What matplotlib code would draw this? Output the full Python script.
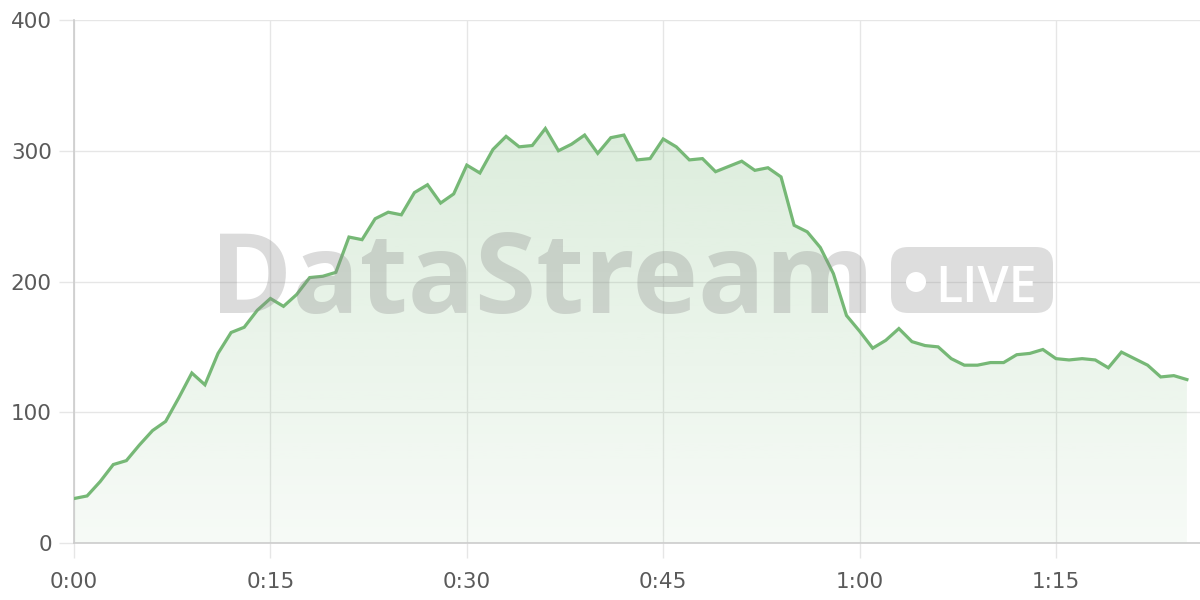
import numpy as np
import matplotlib.pyplot as plt
from matplotlib.patches import FancyBboxPatch, Circle
from matplotlib.colors import to_rgb

# minutes since start and viewer values
minutes = list(range(86))
values = [34, 36, 47, 60, 63, 75, 86, 93, 111, 130,
          121, 145, 161, 165, 178, 187, 181, 190, 203, 204,
          207, 234, 232, 248, 253, 251, 268, 274, 260, 267,
          289, 283, 301, 311, 303, 304, 317, 300, 305, 312,
          298, 310, 312, 293, 294, 309, 303, 293, 294, 284,
          288, 292, 285, 287, 280, 243, 238, 226, 206, 174,
          162, 149, 155, 164, 154, 151, 150, 141, 136, 136,
          138, 138, 144, 145, 148, 141, 140, 141, 140, 134,
          146, 141, 136, 127, 128, 125]
x_ticks = [0, 15, 30, 45, 60, 75]
x_labels = ["0:00", "0:15", "0:30", "0:45", "1:00", "1:15"]
y_ticks = [0, 100, 200, 300, 400]

line_col = "#76b876"

fig = plt.figure(figsize=(12, 6), dpi=100)
ax = fig.add_axes([74/1200, 57/600, 1126/1200, 523/600])
ax.set_xlim(0, 86)
ax.set_ylim(0, 400)

# gradient fill under the line
rgb = to_rgb(line_col)
grad = np.zeros((256, 1, 4))
grad[:, 0, 0] = rgb[0]
grad[:, 0, 1] = rgb[1]
grad[:, 0, 2] = rgb[2]
grad[:, 0, 3] = np.linspace(0.30, 0.06, 256)
im = ax.imshow(grad, aspect="auto", extent=[0, 86, 0, 400], origin="upper", zorder=1)
poly = ax.fill_between(minutes, values, 0, color="none")
im.set_clip_path(poly.get_paths()[0], transform=ax.transData)

ax.plot(minutes, values, color=line_col, lw=2.3, zorder=3, solid_joinstyle="miter")

ax.set_xticks(x_ticks)
ax.set_xticklabels(x_labels)
ax.set_yticks(y_ticks)
ax.grid(True, color="#e6e6e6", lw=1)
ax.set_axisbelow(True)
for s in ["top", "right"]:
    ax.spines[s].set_visible(False)
for s in ["left", "bottom"]:
    ax.spines[s].set_color("#cccccc")
    ax.spines[s].set_linewidth(1.2)
ax.tick_params(axis="both", colors="#e6e6e6", length=11, width=1, labelcolor="#5a5a5a", labelsize=15.5)
ax.tick_params(axis="y", pad=5)
ax.tick_params(axis="x", pad=10)

# watermark on an overlay in pixel coordinates
ov = fig.add_axes([0, 0, 1, 1], zorder=5)
ov.set_xlim(0, 1200)
ov.set_ylim(600, 0)
ov.axis("off")
ov.patch.set_visible(False)
ov.text(542, 313, "DataStream", fontsize=80, fontweight="bold",
        family=["Open Sans", "Liberation Sans", "DejaVu Sans"], color="#888888", alpha=0.3,
        ha="center", va="baseline")
badge = FancyBboxPatch((891, 247), 162, 66, boxstyle="round,pad=0,rounding_size=17",
                       facecolor="#888888", alpha=0.28, edgecolor="none")
ov.add_patch(badge)
ov.add_patch(Circle((916, 282), 10, facecolor="white", edgecolor="none"))
ov.text(986, 302, "LIVE", fontsize=36, family=["Open Sans", "DejaVu Sans"], fontweight="semibold",
        color="white", ha="center", va="baseline")

fig.savefig("out.png", dpi=100)
